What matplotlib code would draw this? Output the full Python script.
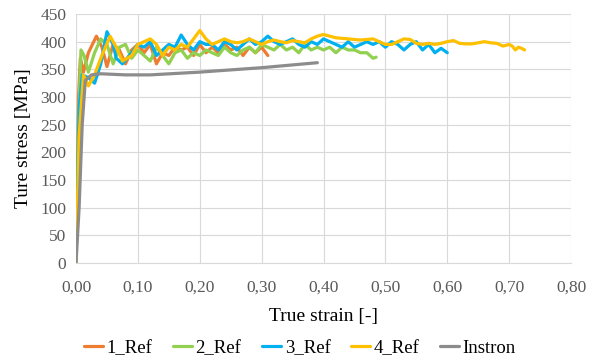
import matplotlib
matplotlib.use("Agg")
import matplotlib.pyplot as plt
from matplotlib.ticker import FuncFormatter, MultipleLocator

# strain / stress
strain_1 = [0.000, 0.004, 0.007, 0.012, 0.020, 0.033, 0.042, 0.050, 0.060, 0.070, 0.080, 0.090,
            0.100, 0.110, 0.120, 0.130, 0.140, 0.150, 0.160, 0.170, 0.180, 0.190, 0.200, 0.210,
            0.220, 0.230, 0.240, 0.250, 0.260, 0.270, 0.280, 0.290, 0.300, 0.310]
stress_1 = [0, 300, 370, 345, 380, 410, 390, 355, 395, 385, 360, 385,
            395, 380, 395, 360, 380, 375, 390, 385, 390, 375, 395, 380,
            390, 380, 395, 385, 390, 375, 390, 380, 390, 375]

strain_2 = [0.000, 0.004, 0.008, 0.013, 0.020, 0.030, 0.040, 0.050, 0.060, 0.070, 0.080, 0.090,
            0.100, 0.110, 0.120, 0.130, 0.140, 0.150, 0.160, 0.170, 0.180, 0.190, 0.200, 0.210,
            0.220, 0.230, 0.240, 0.250, 0.260, 0.270, 0.280, 0.290, 0.300, 0.310, 0.320, 0.330,
            0.340, 0.350, 0.360, 0.370, 0.380, 0.390, 0.400, 0.410, 0.420, 0.430, 0.440, 0.450,
            0.460, 0.470, 0.480, 0.485]
stress_2 = [0, 250, 385, 375, 345, 380, 405, 395, 360, 390, 395, 370,
            385, 375, 365, 390, 375, 360, 380, 385, 370, 380, 375, 385,
            380, 375, 390, 380, 375, 385, 390, 380, 395, 390, 385, 395,
            385, 390, 380, 395, 385, 390, 385, 390, 380, 390, 385, 385,
            380, 380, 370, 372]

strain_3 = [0.000, 0.005, 0.010, 0.020, 0.030, 0.040, 0.050, 0.060, 0.065, 0.075, 0.090,
            0.100, 0.110, 0.120, 0.130, 0.140, 0.150, 0.160, 0.170, 0.180, 0.190, 0.200,
            0.210, 0.220, 0.230, 0.240, 0.250, 0.260, 0.270, 0.280, 0.290, 0.300, 0.310,
            0.320, 0.330, 0.340, 0.350, 0.360, 0.370, 0.380, 0.390, 0.400, 0.410, 0.420,
            0.430, 0.440, 0.450, 0.460, 0.470, 0.480, 0.490, 0.500, 0.510, 0.520, 0.530,
            0.540, 0.550, 0.560, 0.570, 0.580, 0.590, 0.600]
stress_3 = [0, 280, 340, 335, 325, 360, 418, 395, 370, 360, 380,
            395, 390, 400, 375, 385, 395, 390, 412, 395, 385, 400,
            395, 395, 385, 400, 395, 385, 395, 405, 395, 400, 410,
            400, 395, 400, 405, 395, 390, 400, 395, 405, 400, 395,
            390, 400, 390, 395, 400, 395, 400, 390, 400, 395, 385,
            395, 400, 385, 395, 380, 388, 380]

strain_4 = [0.000, 0.005, 0.012, 0.020, 0.030, 0.040, 0.055, 0.065, 0.075, 0.090,
            0.100, 0.110, 0.120, 0.130, 0.140, 0.150, 0.160, 0.170, 0.180, 0.190,
            0.200, 0.210, 0.220, 0.230, 0.240, 0.250, 0.260, 0.270, 0.280, 0.290,
            0.300, 0.310, 0.320, 0.330, 0.340, 0.350, 0.360, 0.370, 0.380, 0.390,
            0.400, 0.410, 0.420, 0.430, 0.440, 0.450, 0.460, 0.470, 0.480, 0.490,
            0.500, 0.510, 0.520, 0.530, 0.540, 0.550, 0.560, 0.570, 0.580, 0.590,
            0.600, 0.610, 0.620, 0.630, 0.640, 0.650, 0.660, 0.670, 0.680, 0.690,
            0.700, 0.705, 0.710, 0.715, 0.720, 0.725]
stress_4 = [0, 230, 340, 320, 340, 370, 410, 390, 365, 375,
            395, 400, 405, 395, 375, 390, 385, 395, 390, 405,
            420, 405, 395, 400, 405, 400, 398, 400, 405, 400,
            395, 400, 403, 400, 398, 402, 400, 398, 405, 410,
            413, 410, 407, 406, 405, 404, 403, 404, 405, 400,
            395, 395, 400, 405, 404, 397, 395, 397, 395, 397,
            400, 402, 397, 396, 396, 398, 400, 398, 397, 392,
            395, 392, 385, 390, 388, 385]

strain_instron = [0.000, 0.005, 0.010, 0.015, 0.025, 0.040, 0.080, 0.120, 0.200, 0.300, 0.390]
stress_instron = [0, 100, 250, 330, 340, 342, 340, 340, 345, 353, 362]

series = [("1_Ref", strain_1, stress_1, "#ED7D31"),
          ("2_Ref", strain_2, stress_2, "#92D050"),
          ("3_Ref", strain_3, stress_3, "#00B0F0"),
          ("4_Ref", strain_4, stress_4, "#FFC000"),
          ("Instron", strain_instron, stress_instron, "#8C8C8C")]

plt.rcParams['font.family'] = ['Liberation Serif', 'DejaVu Serif']

fig = plt.figure(figsize=(6, 3.56), dpi=100)
ax = fig.add_axes([0.1267, 0.261, 0.825, 0.6997])

for name, x, y, col in series:
    ax.plot(x, y, color=col, lw=2.3, label=name, solid_joinstyle="round", solid_capstyle="round")

ax.set_xlim(0, 0.8)
ax.set_ylim(0, 450)
ax.xaxis.set_major_locator(MultipleLocator(0.1))
ax.yaxis.set_major_locator(MultipleLocator(50))
ax.xaxis.set_major_formatter(FuncFormatter(lambda v, p: f"{v:.2f}".replace(".", ",")))
ax.grid(True, color="#D9D9D9", lw=0.8)
ax.set_axisbelow(True)
for s in ["top", "right", "left"]:
    ax.spines[s].set_visible(False)
ax.spines["bottom"].set_color("#D9D9D9")
ax.tick_params(axis="x", length=0, labelsize=12.5, labelcolor="#595959", pad=12)
ax.tick_params(axis="y", length=0, labelsize=12.5, labelcolor="#595959", pad=7)

ax.set_xlabel("True strain [-]", fontsize=14, labelpad=9)
ax.set_ylabel("Ture stress [MPa]", fontsize=14, labelpad=6)

fig.legend(loc="lower center", bbox_to_anchor=(0.5, -0.05), ncol=5, frameon=False,
           fontsize=13.5, handlelength=1.0, handletextpad=0.2, columnspacing=1.1)

fig.savefig("out.png", dpi=100)
